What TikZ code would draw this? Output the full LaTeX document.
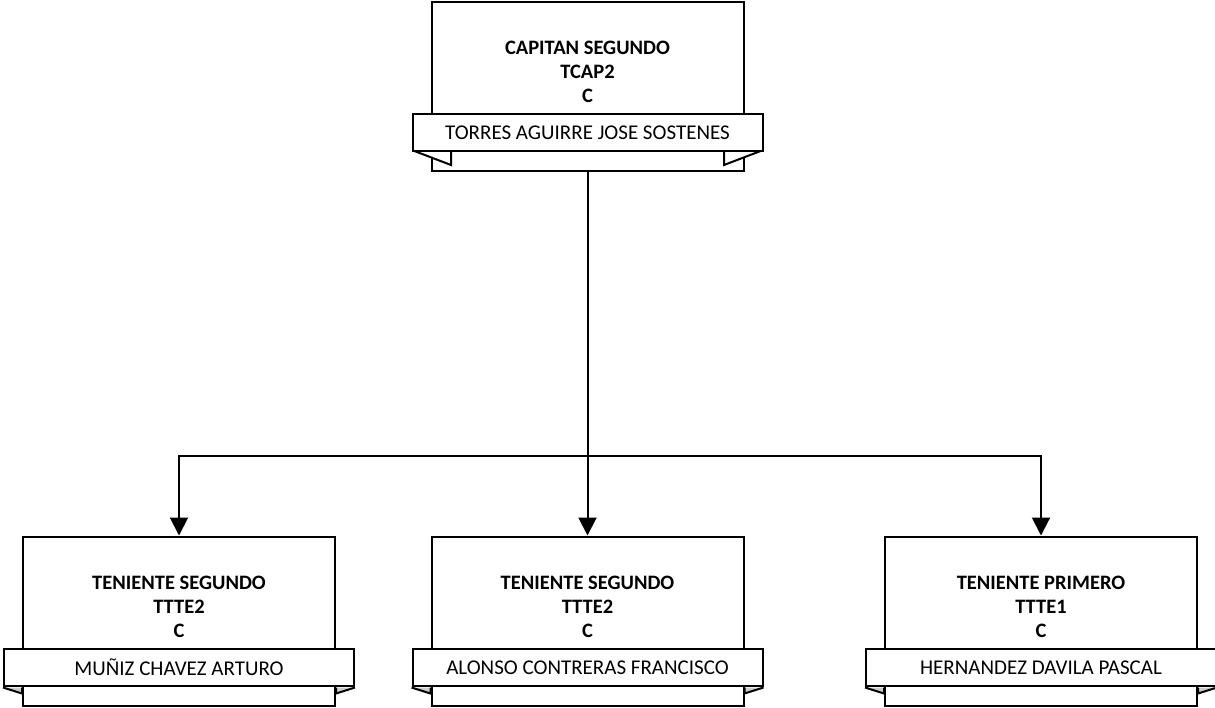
\documentclass[tikz,border=0pt]{standalone}
\usepackage{fontspec}
\setmainfont{Carlito}
\usepackage{tikz}
\usetikzlibrary{arrows.meta}
\tikzstyle{puesto}=[draw,line width=2pt,fill=white,minimum width=312pt,minimum height=169pt,inner sep=0pt]
\tikzstyle{banda}=[draw,line width=2pt,fill=white,minimum width=350pt,minimum height=37pt,inner sep=0pt,font=\fontsize{21}{21}\selectfont]
\tikzstyle{titulo}=[align=center,inner sep=0pt,font=\bfseries\fontsize{20.5}{24}\selectfont]
\tikzstyle{cola}=[draw,line width=2pt,line join=miter]
\tikzstyle{flecha}=[line width=2pt,-{Triangle[length=18pt,width=18pt]}]

\begin{document}
\begin{tikzpicture}[x=1pt,y=-1pt]
\useasboundingbox (0,0) rectangle (1215,707);
% capitan
\node[puesto] (cap) at (587.5,86.5) {};
\draw[cola,fill=white] (413,150.5) -- (451,165) -- (451,150.5);
\draw[cola,fill=white] (762,150.5) -- (724,165) -- (724,150.5);
\node[banda] (ncap) at (587.5,132.5) {TORRES AGUIRRE JOSE SOSTENES};
\node[titulo] (tcap) at (587.5,72) {CAPITAN SEGUNDO\\TCAP2\\C};
% tenientes
\node[puesto] (te1) at (179,621) {};
\node[puesto] (te2) at (587.5,621) {};
\node[puesto] (te3) at (1041,621) {};
\foreach \n in {te1,te2,te3} {
  \draw[cola,fill=black!20] ([xshift=-19pt,yshift=19pt]\n.south west) -- ([yshift=13pt]\n.south west) -- ([yshift=19pt]\n.south west);
  \draw[cola,fill=black!20] ([xshift=19pt,yshift=19pt]\n.south east) -- ([yshift=13pt]\n.south east) -- ([yshift=19pt]\n.south east);
}
\node[banda] (nte1) at (179,667.5) {MUÑIZ CHAVEZ ARTURO};
\node[banda] (nte2) at (587.5,667.5) {ALONSO CONTRERAS FRANCISCO};
\node[banda] (nte3) at (1041,667.5) {HERNANDEZ DAVILA PASCAL};
\node[titulo] (tte1) at (179,607) {TENIENTE SEGUNDO\\TTTE2\\C};
\node[titulo] (tte2) at (587.5,607) {TENIENTE SEGUNDO\\TTTE2\\C};
\node[titulo] (tte3) at (1041,607) {TENIENTE PRIMERO\\TTTE1\\C};
% lineas
\coordinate (bus) at (587.5,456);
\draw[line width=2pt] (cap.south) -- (bus);
\draw[flecha] (bus) -| (te1.north);
\draw[flecha] (bus) -- (te2.north);
\draw[flecha] (bus) -| (te3.north);
\end{tikzpicture}
\end{document}
